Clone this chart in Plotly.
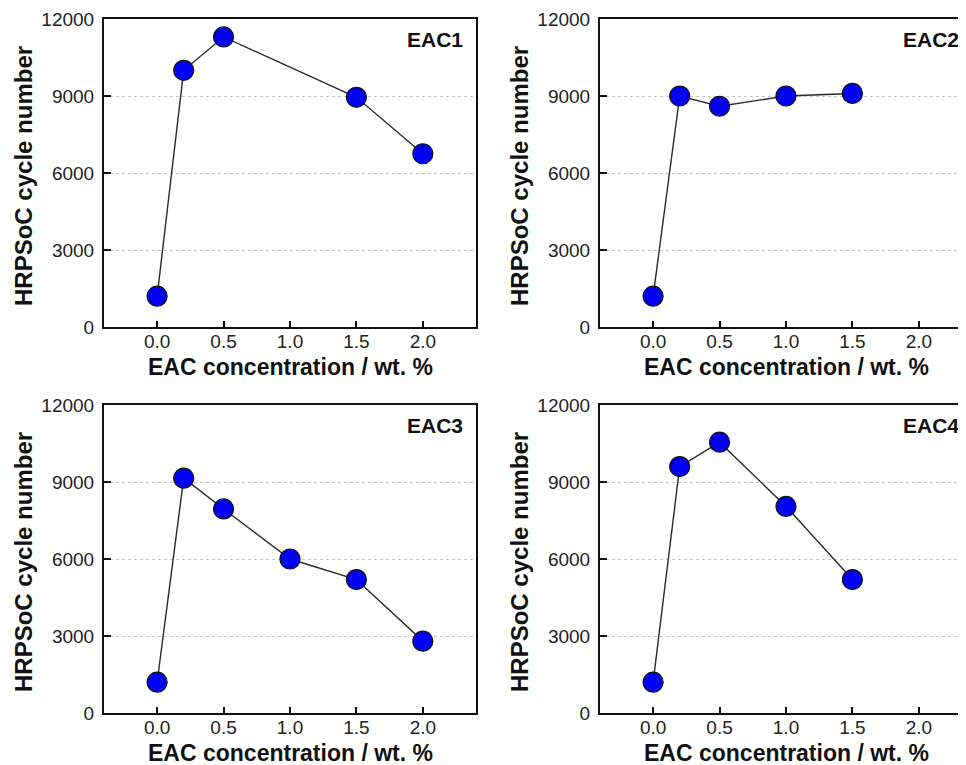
import plotly.graph_objects as go

# ---- data ----
eac1_x = [0.0, 0.2, 0.5, 1.5, 2.0]
eac1_y = [1200, 10000, 11300, 8950, 6750]

eac2_x = [0.0, 0.2, 0.5, 1.0, 1.5]
eac2_y = [1200, 9000, 8600, 9000, 9100]

eac3_x = [0.0, 0.2, 0.5, 1.0, 1.5, 2.0]
eac3_y = [1200, 9150, 7950, 6000, 5200, 2800]

eac4_x = [0.0, 0.2, 0.5, 1.0, 1.5]
eac4_y = [1200, 9600, 10550, 8050, 5200]

panel_names = ["EAC1", "EAC2", "EAC3", "EAC4"]
x_ticks = [0.0, 0.5, 1.0, 1.5, 2.0]
x_ticklabels = ["0.0", "0.5", "1.0", "1.5", "2.0"]
y_ticks = [0, 3000, 6000, 9000, 12000]
y_ticklabels = ["0", "3000", "6000", "9000", "12000"]
x_title = "EAC concentration / wt. %"
y_title = "HRPSoC cycle number"

W, H = 966, 765
OFF_X, OFF_Y = 7, 8  # page body margin offset
FONT = "Liberation Sans, Arial, sans-serif"

series = [(eac1_x, eac1_y), (eac2_x, eac2_y), (eac3_x, eac3_y), (eac4_x, eac4_y)]

# panel geometry in page pixels: (left, right, top, bottom)
panels = [
    (103, 475, 19, 327),
    (599, 971, 19, 327),
    (103, 475, 405, 713),
    (599, 971, 405, 713),
]


def px(p):
    return (p - OFF_X) / W


def py(p):
    return 1 - (p - OFF_Y) / H


fig = go.Figure()
annotations = []
for i, ((xs, ys), (l, r, t, b)) in enumerate(zip(series, panels)):
    k = "" if i == 0 else str(i + 1)
    fig.add_trace(go.Scatter(
        x=xs, y=ys, mode="lines+markers",
        xaxis="x" + k, yaxis="y" + k,
        line=dict(color="#2a2a2a", width=1.4),
        marker=dict(size=20, color="#0000F5", line=dict(color="#111111", width=1.2)),
        showlegend=False,
    ))
    fig.layout["xaxis" + k] = dict(
        domain=[px(l), px(r)], range=[-0.4, 2.4], anchor="y" + k,
        tickvals=x_ticks, ticktext=x_ticklabels,
        ticks="inside", ticklen=6, tickwidth=2, tickcolor="#111111",
        showline=True, linecolor="#111111", linewidth=2, mirror=True,
        showgrid=False, zeroline=False, automargin=False,
        ticklabelstandoff=-4,
        tickfont=dict(family=FONT, size=19, color="#222222"),
    )
    fig.layout["yaxis" + k] = dict(
        domain=[py(b), py(t)], range=[0, 12000], anchor="x" + k,
        tickvals=y_ticks, ticktext=y_ticklabels,
        ticks="inside", ticklen=7, tickwidth=2, tickcolor="#111111",
        showline=True, linecolor="#111111", linewidth=2, mirror=True,
        showgrid=True, gridcolor="#c4c4c4", griddash="dot", gridwidth=1,
        zeroline=False, ticklabelstandoff=4, automargin=False,
        tickfont=dict(family=FONT, size=19, color="#222222"),
    )
    # panel label
    annotations.append(dict(
        text="<b>" + panel_names[i] + "</b>", xref="paper", yref="paper",
        x=px(r - 11), y=py(t + 21), xanchor="right", yanchor="middle",
        showarrow=False, font=dict(family=FONT, size=21, color="#111111"),
    ))
    # x title
    annotations.append(dict(
        text="<b>" + x_title + "</b>", xref="paper", yref="paper",
        x=px((l + r) / 2), y=py(b + 40), xanchor="center", yanchor="middle",
        showarrow=False, font=dict(family=FONT, size=23, color="#111111"),
    ))
    # y title
    annotations.append(dict(
        text="<b>" + y_title + "</b>", xref="paper", yref="paper",
        x=px(l - 81), y=py((t + b) / 2 + 3), xanchor="center", yanchor="middle",
        textangle=-90, showarrow=False, font=dict(family=FONT, size=24, color="#111111"),
    ))

fig.update_layout(
    width=W, height=H, margin=dict(l=0, r=0, t=0, b=0, autoexpand=False),
    paper_bgcolor="white", plot_bgcolor="white",
    annotations=annotations,
)
fig.write_html("out.html")
